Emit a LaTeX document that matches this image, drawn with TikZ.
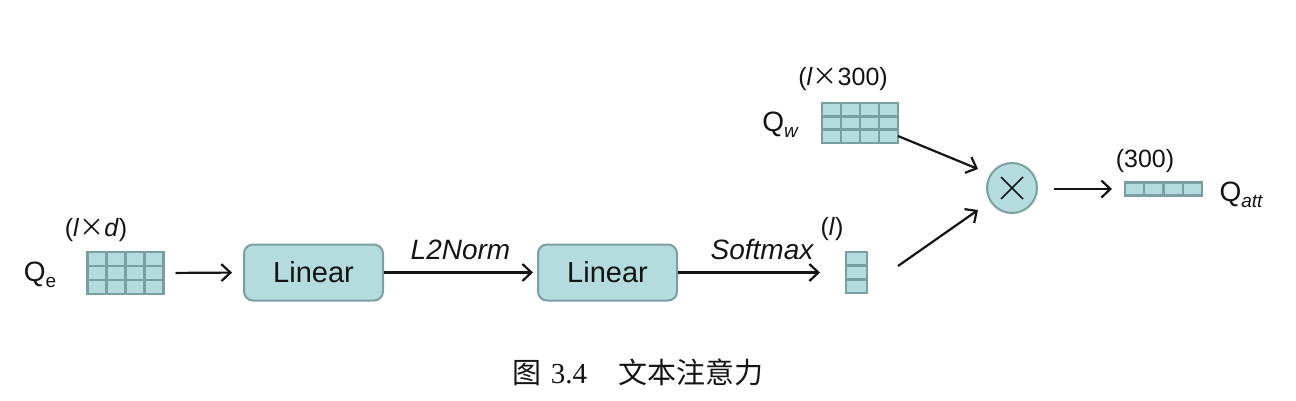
\documentclass[tikz,border=0pt]{standalone}
\usepackage{fontspec}
\setmainfont{Liberation Sans}
\newfontfamily\cjk{Noto Sans CJK SC}
\newfontfamily\capserif{Liberation Serif}
\usetikzlibrary{arrows.meta,calc}
\definecolor{tfill}{HTML}{B4DCDE}
\definecolor{tline}{HTML}{7A9FA0}
\definecolor{ink}{HTML}{141414}
\tikzset{
  every node/.style={text=ink},
  cellbox/.style={draw=tline,fill=tfill,line width=2.4pt,inner sep=0pt,outer sep=0pt},
  gridl/.style={draw=tline,line width=2.4pt},
  linbox/.style={draw=tline,fill=tfill,line width=2pt,rounded corners=9pt,minimum width=139pt,minimum height=56pt,inner sep=0pt,font=\fontsize{29}{32}\selectfont},
  arr/.style={draw=ink,line width=2.2pt,-{Straight Barb[length=9pt,width=17pt,line width=2.2pt]}},
  lab/.style={font=\fontsize{25}{28}\selectfont,inner sep=0pt},
  big/.style={font=\fontsize{28}{32}\selectfont,inner sep=0pt},
}
\newcommand\mytimes{{\cjk ×}}
\begin{document}
\begin{tikzpicture}[x=1pt,y=-1pt]
\useasboundingbox (0,0) rectangle (1296,400);
% grids
\node[cellbox,minimum width=76pt,minimum height=42pt] (qe) at (125.5,273) {};
\foreach \i in {1,2,3} \draw[gridl] ($(qe.north west)!\i/4!(qe.north east)$) -- ($(qe.south west)!\i/4!(qe.south east)$);
\foreach \i in {1,2} \draw[gridl] ($(qe.north west)!\i/3!(qe.south west)$) -- ($(qe.north east)!\i/3!(qe.south east)$);

\node[cellbox,minimum width=76pt,minimum height=40pt] (qw) at (860,123) {};
\foreach \i in {1,2,3} \draw[gridl] ($(qw.north west)!\i/4!(qw.north east)$) -- ($(qw.south west)!\i/4!(qw.south east)$);
\foreach \i in {1,2} \draw[gridl] ($(qw.north west)!\i/3!(qw.south west)$) -- ($(qw.north east)!\i/3!(qw.south east)$);

\node[cellbox,minimum width=21pt,minimum height=41pt] (vl) at (856.5,272.5) {};
\foreach \i in {1,2} \draw[gridl] ($(vl.north west)!\i/3!(vl.south west)$) -- ($(vl.north east)!\i/3!(vl.south east)$);

\node[cellbox,minimum width=77pt,minimum height=13pt] (qa) at (1163.5,189) {};
\foreach \i in {1,2,3} \draw[gridl] ($(qa.north west)!\i/4!(qa.north east)$) -- ($(qa.south west)!\i/4!(qa.south east)$);

% linear boxes
\node[linbox] (lin1) at (313.5,272.5) {Linear};
\node[linbox] (lin2) at (607.5,272.5) {Linear};

% multiply circle
\node[circle,draw=tline,fill=tfill,line width=2pt,minimum size=50pt,inner sep=0pt] (mul) at (1012,188) {};
\draw[ink,line width=1.5pt] ($(mul.center)+(-11,-11)$) -- ($(mul.center)+(11,11)$);
\draw[ink,line width=1.5pt] ($(mul.center)+(-11,11)$) -- ($(mul.center)+(11,-11)$);

% labels
\node[big] (lqe) at (40,275) {Q\raisebox{-6pt}{\fontsize{19}{20}\selectfont e}};
\node[lab] (lqed) at (96,230) {(\textit{l}\mytimes\textit{d})};
\node[big] (lqw) at (780,125) {Q\raisebox{-6pt}{\fontsize{19}{20}\selectfont\itshape w}};
\node[lab] (lqws) at (843,79) {(\textit{l}\mytimes 300)};
\node[lab] (lvl) at (832,229) {(\textit{l})};
\node[lab] (lqas) at (1145,161) {(300)};
\node[big] (lqa) at (1241,195) {Q\raisebox{-6pt}{\fontsize{19}{20}\selectfont\itshape att}};

% connectors
\draw[arr,shorten <=12pt,shorten >=11pt] (qe.east) -- (lin1.west);
\draw[arr,shorten >=4pt] (lin1.east) -- node[big,above=12pt,font=\fontsize{28}{32}\selectfont\itshape] {L2Norm} (lin2.west);
\draw[arr,shorten >=26pt] (lin2.east) -- node[big,above=12pt,font=\fontsize{28}{32}\selectfont\itshape] {Softmax} (vl.west);
\coordinate (s1) at (898,266);
\coordinate (e1) at (978,210);
\coordinate (s2) at (898,136);
\coordinate (e2) at (978,169);
\draw[arr] (s1) -- (e1);
\draw[arr] (s2) -- (e2);
\draw[arr,shorten <=16pt,shorten >=13pt] (mul.east |- qa.west) -- (qa.west);

% caption
\node[inner sep=0pt,font=\fontsize{29}{34}\selectfont] (cap) at (638,372) {{\cjk 图}\hspace{9pt}{\capserif 3.4}\hspace{31pt}{\cjk 文本注意力}};
\end{tikzpicture}
\end{document}
